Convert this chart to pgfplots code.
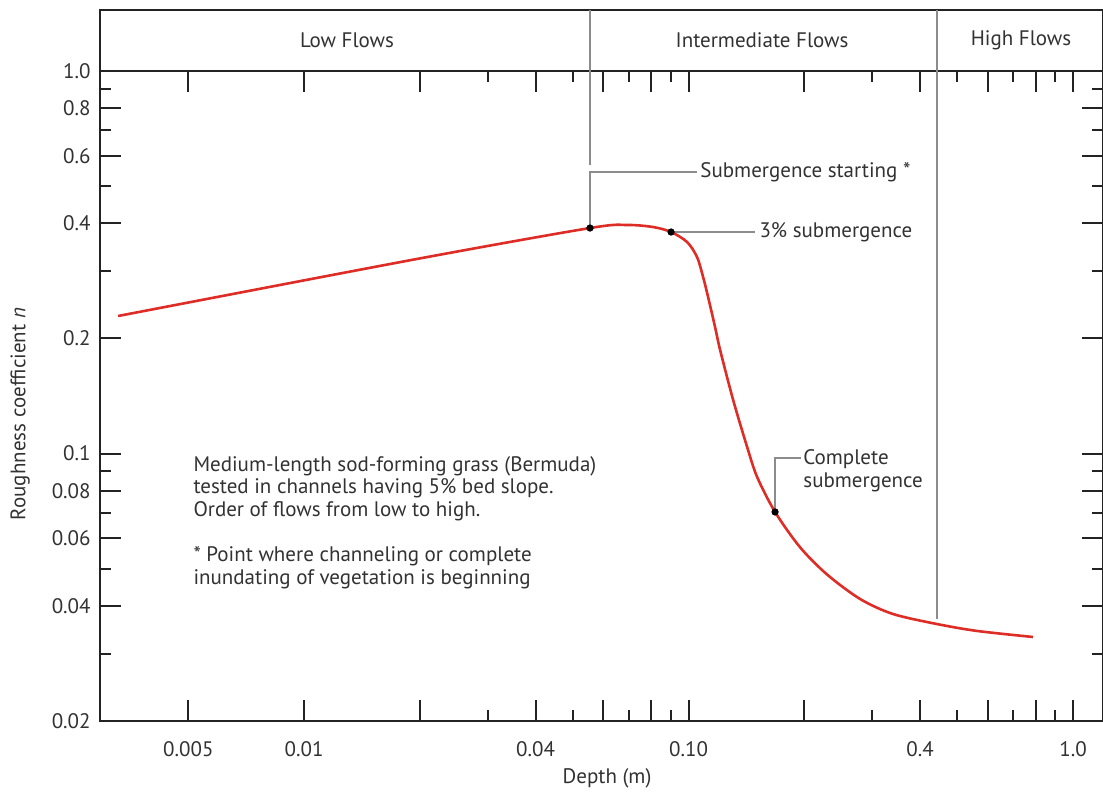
\documentclass[border=0pt]{standalone}
\usepackage{fontspec}
\setmainfont{PT Sans}
\usepackage{pgfplots}
\pgfplotsset{compat=1.18}
\definecolor{curvered}{RGB}{222,44,38}
\definecolor{leadgray}{RGB}{140,140,140}
\definecolor{txt}{RGB}{50,50,50}
\definecolor{axc}{RGB}{35,35,35}
\pgfplotstableread{
x y
0.003283 0.2289
0.01944 0.3220
0.05541 0.3887
0.0692 0.3959
0.08085 0.3911
0.09005 0.3795
0.09911 0.3573
0.1052 0.3265
0.1091 0.2894
0.1124 0.2566
0.1172 0.2142
0.1208 0.1866
0.1306 0.1381
0.1420 0.1041
0.1508 0.08684
0.1679 0.07037
0.1950 0.05690
0.2292 0.04830
0.2793 0.04169
0.3403 0.03808
0.4429 0.03585
0.5628 0.03439
0.7870 0.03316
}\curvedata
\begin{document}
\fontsize{10.5}{11.3}\selectfont
\begin{tikzpicture}
\path[use as bounding box] (-50pt,-36pt) rectangle (501.5pt,360.5pt);
\begin{axis}[
 xmode=log, ymode=log,
 scale only axis, width=501.5pt, height=325pt,
 xmin=0.002945, xmax=1.1966, ymin=0.02, ymax=1,
 axis line style={axc, line width=1pt},
 every tick/.style={axc, line width=1pt},
 major tick length=10.5pt, minor tick length=5.5pt,
 tick align=inside,
 xtick={0.005,0.01,0.02,0.04,0.06,0.08,0.1,0.2,0.4,0.6,0.8,1},
 xticklabels={0.005,0.01,,0.04,,,0.10,,0.4,,,1.0},
 minor xtick={0.03,0.05,0.07,0.09,0.3,0.5,0.7,0.9},
 ytick={0.02,0.04,0.06,0.08,0.1,0.2,0.4,0.6,0.8,1},
 yticklabels={0.02,0.04,0.06,0.08,0.1,0.2,0.4,0.6,0.8,1.0},
 minor ytick={0.03,0.05,0.07,0.09,0.3,0.5,0.7,0.9},
 /pgf/number format/assume math mode=true,
 ticklabel style={font=\fontsize{10.5}{12}\selectfont, text=txt},
 xticklabel style={yshift=-6.5pt},
 yticklabel style={xshift=-1pt},
 clip=false,
]
% header box
\draw[axc, line width=1pt] (axis cs:0.002945,1) -- (axis cs:0.002945,1.4432) -- (axis cs:1.1966,1.4432) -- (axis cs:1.1966,1);
\node[text=txt] at (axis cs:0.01293,1.205) {Low Flows};
\node[text=txt] at (axis cs:0.1553,1.205) {Intermediate Flows};
\node[text=txt] at (axis cs:0.7323,1.205) {High Flows};
% separators and leaders
\draw[leadgray, line width=0.8pt] (axis cs:0.05541,1.4432) -- (axis cs:0.05541,0.5677);
\draw[leadgray, line width=0.8pt] (axis cs:0.05541,0.3887) -- (axis cs:0.05541,0.5445) -- (axis cs:0.1052,0.5445);
\draw[leadgray, line width=0.8pt] (axis cs:0.4429,1.4432) -- (axis cs:0.4429,0.03695);
\draw[leadgray, line width=0.8pt] (axis cs:0.09005,0.3795) -- (axis cs:0.1489,0.3795);
\draw[leadgray, line width=0.8pt] (axis cs:0.1679,0.07037) -- (axis cs:0.1679,0.09739) -- (axis cs:0.1962,0.09739);
% curve
\addplot[curvered, line width=1.3pt, smooth, tension=0.5, no marks] table[x=x,y=y] {\curvedata};
\addplot[only marks, mark=*, mark size=1.6pt, black] coordinates {(0.05541,0.3887) (0.09005,0.3795) (0.1679,0.07037)};
% annotations
\node[anchor=west, text=txt, inner sep=0pt] at (axis cs:0.1071,0.5445) {Submergence starting *};
\node[anchor=west, text=txt, inner sep=0pt] at (axis cs:0.1526,0.3795) {3\% submergence};
\node[anchor=west, text=txt, inner sep=0pt, align=left] at (axis cs:0.1985,0.09005) {Complete\\submergence};
\node[anchor=north west, text=txt, inner sep=0pt, align=left] at (axis cs:0.005144,0.0986) {Medium-length sod-forming grass (Bermuda)\\tested in channels having 5\% bed slope.\\Order of flows from low to high.\\[11.3pt]* Point where channeling or complete\\inundating of vegetation is beginning};
% axis labels
\node[text=txt, rotate=90] at (axis cs:0.001826,0.1269) {Roughness coefficient \textit{n}};
\node[text=txt] at (axis cs:0.06137,0.01419) {Depth (m)};
\end{axis}
\end{tikzpicture}
\end{document}
